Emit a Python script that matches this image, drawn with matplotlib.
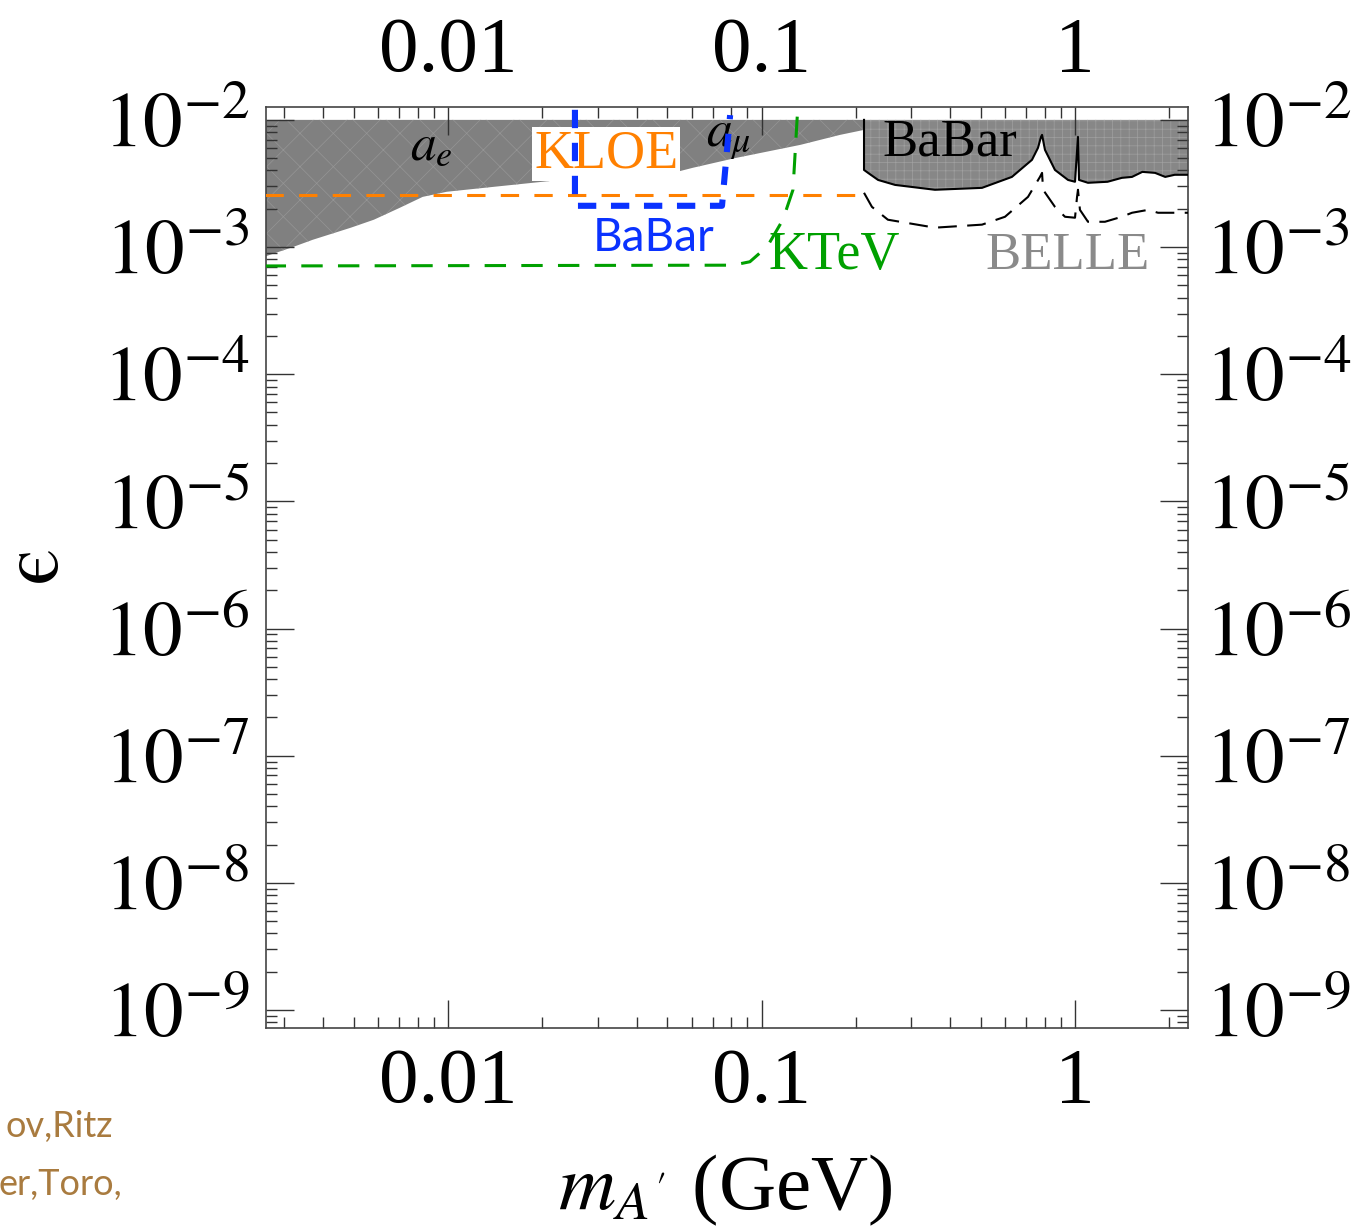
import numpy as np
import matplotlib
matplotlib.use('Agg')
import matplotlib.pyplot as plt
from matplotlib.ticker import FixedLocator, FixedFormatter, LogLocator, NullFormatter

plt.rcParams['font.family'] = ['Liberation Serif', 'DejaVu Serif']
plt.rcParams['mathtext.fontset'] = 'stix'
plt.rcParams['hatch.linewidth'] = 0.5

# g-2 (a_e, a_mu) excluded region, lower edge
m_g2 = [0.0026, 0.0032, 0.0037, 0.0049, 0.0058, 0.0070, 0.0083, 0.0099, 0.0139,
        0.0228, 0.0372, 0.0537, 0.0604, 0.0822, 0.133, 0.178, 0.2123]
eps_g2 = [8.4e-4, 1.0e-3, 1.14e-3, 1.42e-3, 1.64e-3, 2.03e-3, 2.48e-3, 2.72e-3, 2.97e-3,
          3.37e-3, 3.70e-3, 3.90e-3, 4.20e-3, 5.0e-3, 6.36e-3, 7.62e-3, 8.34e-3]

# BaBar excluded region, lower edge (solid black)
m_babar = [0.2123, 0.2123, 0.2187, 0.2354, 0.2667, 0.3575, 0.505, 0.629, 0.729, 0.762,
           0.779, 0.785, 0.802, 0.863, 0.950, 1.0, 1.022, 1.030, 1.10, 1.27, 1.41,
           1.52, 1.64, 1.80, 1.94, 2.08, 2.33]
eps_babar = [1.0e-2, 4.04e-3, 3.83e-3, 3.37e-3, 3.08e-3, 2.82e-3, 2.92e-3, 3.56e-3, 4.85e-3,
             6.03e-3, 7.35e-3, 7.62e-3, 5.81e-3, 4.04e-3, 3.37e-3, 3.26e-3, 7.35e-3,
             3.37e-3, 3.20e-3, 3.26e-3, 3.50e-3, 3.56e-3, 3.90e-3, 3.83e-3, 3.56e-3,
             3.70e-3, 3.70e-3]

# BELLE projection (dashed black)
m_belle = [0.2123, 0.225, 0.253, 0.3575, 0.505, 0.598, 0.708, 0.773, 0.785, 0.791, 0.863,
           0.929, 1.0, 1.015, 1.022, 1.037, 1.10, 1.246, 1.41, 1.52, 1.71, 1.84, 2.08, 2.33]
eps_belle = [2.67e-3, 2.07e-3, 1.64e-3, 1.42e-3, 1.50e-3, 1.73e-3, 2.48e-3, 3.56e-3, 3.83e-3,
             2.82e-3, 2.07e-3, 1.73e-3, 1.70e-3, 2.48e-3, 2.82e-3, 1.96e-3, 1.58e-3,
             1.58e-3, 1.73e-3, 1.86e-3, 1.96e-3, 1.86e-3, 1.86e-3, 1.86e-3]

# KLOE (dashed orange)
m_kloe = [0.0026, 0.2123]
eps_kloe = [2.57e-3, 2.57e-3]

# KTeV (dashed green)
m_ktev = [0.0026, 0.0811, 0.0918, 0.0989, 0.106, 0.117, 0.126, 0.130]
eps_ktev = [7.1e-4, 7.2e-4, 7.66e-4, 9.0e-4, 1.08e-3, 1.64e-3, 2.82e-3, 1.06e-2]

# BaBar projection box (thick dashed blue)
m_babar_box = [0.0254, 0.0254, 0.0748, 0.0794]
eps_babar_box = [1.20e-2, 2.11e-3, 2.11e-3, 1.09e-2]

x_ticks = [0.01, 0.1, 1]
x_tick_labels = ['0.01', '0.1', '1']
y_ticks = [1e-2, 1e-3, 1e-4, 1e-5, 1e-6, 1e-7, 1e-8, 1e-9]
y_tick_labels = [r'$10^{-2}$', r'$10^{-3}$', r'$10^{-4}$', r'$10^{-5}$',
                 r'$10^{-6}$', r'$10^{-7}$', r'$10^{-8}$', r'$10^{-9}$']

fig = plt.figure(figsize=(13.56, 12.26), dpi=100)
ax = fig.add_axes([0.1962, 0.1615, 0.6799, 0.7512])
ax.set_xscale('log')
ax.set_yscale('log')
ax.set_xlim(0.002627, 2.293)
ax.set_ylim(10 ** -9.1415, 10 ** -1.899)

# excluded regions
ax.fill_between(m_g2, eps_g2, 1e-2, facecolor='#808080', edgecolor='#959595',
                hatch='x', linewidth=0, zorder=1)
ax.fill_between(m_babar, eps_babar, 1e-2, facecolor='#878787', edgecolor='#a0a0a0',
                hatch='++', linewidth=0, zorder=1)

ax.plot(m_babar, eps_babar, color='black', lw=1.5, zorder=3)
ax.plot(m_belle, eps_belle, color='black', lw=1.5, dashes=(9, 5), zorder=3)
ax.plot(m_kloe, eps_kloe, color='#ff8000', lw=2.2, dashes=(6, 5), zorder=3)
ax.plot(m_ktev, eps_ktev, color='#00a000', lw=2.2, dashes=(7, 5), zorder=3)
ax.plot(m_babar_box, eps_babar_box, color='#0a32ff', lw=4.4, dashes=(3, 2.4), zorder=4)

# labels on the plot
ax.text(0.179, 0.9555, r'$a_e$', fontsize=37, ha='center', va='center', transform=ax.transAxes)
ax.text(0.502, 0.966, r'$a_\mu$', fontsize=37, ha='center', va='center', transform=ax.transAxes)
ax.text(0.369, 0.949, 'KLOE', fontsize=39, color='#ff8000', ha='center', va='center',
        transform=ax.transAxes, zorder=3.5,
        bbox=dict(facecolor='white', edgecolor='none', pad=1))
ax.text(0.742, 0.962, 'BaBar', fontsize=38, ha='center', va='center', transform=ax.transAxes, zorder=5)
ax.text(0.420, 0.858, 'BaBar', fontsize=33, color='#0a32ff', family=['Lato', 'DejaVu Sans'],
        ha='center', va='center', transform=ax.transAxes)
ax.text(0.616, 0.839, 'KTeV', fontsize=39, color='#00a000', ha='center', va='center',
        transform=ax.transAxes)
ax.text(0.869, 0.838, 'BELLE', fontsize=38, color='#8a8a8a', ha='center', va='center',
        transform=ax.transAxes)

# ticks
ax.xaxis.set_major_locator(FixedLocator(x_ticks))
ax.xaxis.set_major_formatter(FixedFormatter(x_tick_labels))
ax.xaxis.set_minor_locator(LogLocator(base=10, subs=np.arange(2, 10), numticks=30))
ax.xaxis.set_minor_formatter(NullFormatter())
ax.yaxis.set_major_locator(FixedLocator(y_ticks))
ax.yaxis.set_major_formatter(FixedFormatter(y_tick_labels))
ax.yaxis.set_minor_locator(LogLocator(base=10, subs=np.arange(2, 10), numticks=30))
ax.yaxis.set_minor_formatter(NullFormatter())

ax.tick_params(which='both', direction='in', top=True, right=True, labeltop=True,
               labelright=True, labelsize=57, color='#333333')
ax.tick_params(which='major', length=20, width=1)
ax.tick_params(which='minor', length=8, width=1)
ax.tick_params(axis='x', pad=14)
ax.tick_params(axis='y', pad=12)
for s in ax.spines.values():
    s.set_color('#444444')
    s.set_linewidth(1.2)

ax.set_xlabel(r"$m_{A'}$ (GeV)", fontsize=57, va='center')
ax.xaxis.set_label_coords(0.498, -0.176)
ax.set_ylabel('$\\mathrm{\u03f5}$', fontsize=60, va='center')
ax.yaxis.set_label_coords(-0.247, 0.5)

# reference text fragments left over from the slide
ref_col = '#a97b3f'
fig.text(113 / 1356, 1 - 1137 / 1226, 'ov,Ritz', color=ref_col, fontsize=26,
         family=['Lato', 'DejaVu Sans'], ha='right', va='baseline')
fig.text(122 / 1356, 1 - 1195 / 1226, 'er,Toro,', color=ref_col, fontsize=26,
         family=['Lato', 'DejaVu Sans'], ha='right', va='baseline')

fig.savefig('out.png', dpi=100)
